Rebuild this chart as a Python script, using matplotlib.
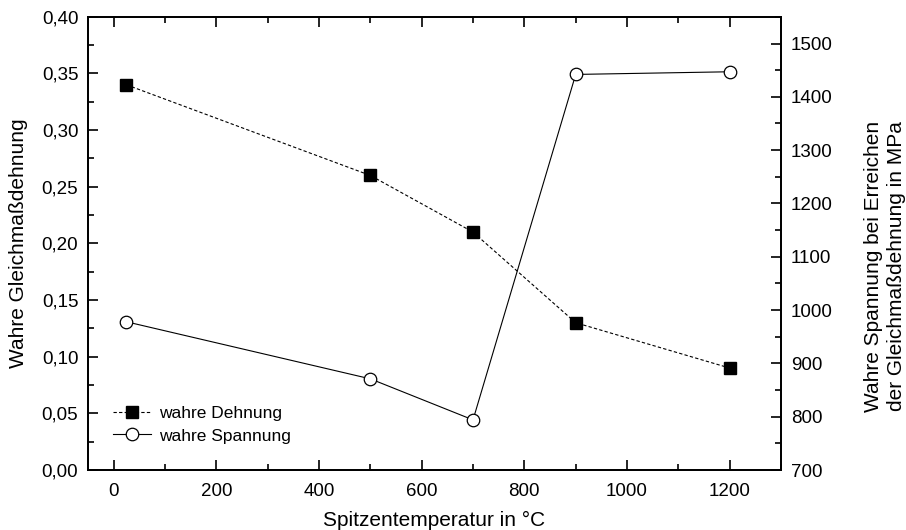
import matplotlib
matplotlib.use("Agg")
import matplotlib.pyplot as plt
from matplotlib.ticker import MultipleLocator, FuncFormatter

plt.rcParams['font.family'] = ['Liberation Sans', 'DejaVu Sans']

# data
temps = [25, 500, 700, 900, 1200]
dehnung = [0.34, 0.26, 0.21, 0.13, 0.09]
spannung = [978, 871, 794, 1442, 1447]

fig = plt.figure(figsize=(9.06, 5.30), dpi=100)
ax = fig.add_axes([0.0971, 0.1132, 0.765, 0.855])
ax2 = ax.twinx()

l1, = ax.plot(temps, dehnung, color='black', linestyle=(0, (3, 2)), linewidth=0.8,
              marker='s', markersize=8, markerfacecolor='black', label='wahre Dehnung')
l2, = ax2.plot(temps, spannung, color='black', linestyle='-', linewidth=0.8,
               marker='o', markersize=9, markerfacecolor='white', markeredgewidth=0.9,
               label='wahre Spannung')

ax.set_xlim(-50, 1300)
ax.set_ylim(0, 0.40)
ax2.set_ylim(700, 1550)

ax.xaxis.set_major_locator(MultipleLocator(200))
ax.xaxis.set_minor_locator(MultipleLocator(100))
ax.yaxis.set_major_locator(MultipleLocator(0.05))
ax.yaxis.set_minor_locator(MultipleLocator(0.025))
ax.yaxis.set_major_formatter(FuncFormatter(lambda v, p: f"{v:.2f}".replace('.', ',')))
ax2.yaxis.set_major_locator(MultipleLocator(100))
ax2.yaxis.set_minor_locator(MultipleLocator(50))

ax.tick_params(which='both', direction='in', top=True, right=False, labelsize=13.5, width=1.2)
ax.tick_params(which='major', length=7)
ax.tick_params(which='minor', length=4)
ax.tick_params(axis='y', pad=7)
ax.tick_params(axis='x', pad=9)
ax2.tick_params(which='both', direction='in', labelsize=13.5, width=1.2, pad=7)
ax2.tick_params(which='major', length=7)
ax2.tick_params(which='minor', length=4)

for a in (ax, ax2):
    for s in a.spines.values():
        s.set_linewidth(1.3)

ax.set_xlabel('Spitzentemperatur in °C', fontsize=15, labelpad=8)
ax.set_ylabel('Wahre Gleichmaßdehnung', fontsize=15, labelpad=10)
ax2.set_ylabel('Wahre Spannung bei Erreichen\nder Gleichmaßdehnung in MPa', fontsize=15,
               linespacing=1.25)
ax2.yaxis.set_label_coords(1.12, 0.45)

ax.legend(handles=[l1, l2], loc='lower left', bbox_to_anchor=(0.013, 0.024), frameon=False,
          fontsize=12.5, handlelength=2.2, handletextpad=0.5, labelspacing=0.42)

fig.savefig('out.png', dpi=100)
